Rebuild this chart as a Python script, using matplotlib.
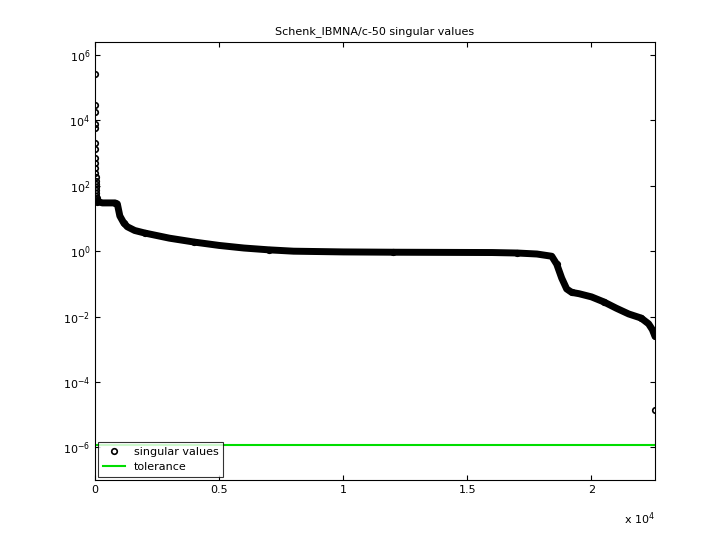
import matplotlib
matplotlib.use("Agg")
import matplotlib.pyplot as plt
import numpy as np

n_total = 22558
# sparse large singular values near index 0
top_idx = [1, 2, 3, 4, 5, 6, 8, 10, 12, 15, 18, 22, 26, 30, 35, 40, 50, 60, 80, 100]
top_val = [2.6e5, 3.0e4, 1.8e4, 8e3, 6e3, 2e3, 1.3e3, 700, 500, 350, 250, 180, 140, 110, 90, 75, 60, 50, 42, 37]
# dense band
band_idx = [100, 300, 600, 800, 900, 1000, 1150, 1300, 1600, 2000, 2500, 3000, 4000, 5000, 6000, 7000, 8000,
            10000, 12000, 14000, 16000, 17000, 17800, 18400, 18600, 18800, 19000, 19200, 19500, 20000, 20500,
            21000, 21500, 22000, 22300, 22450, 22557]
band_val = [33, 30, 30, 30, 28, 12, 7.5, 5.6, 4.3, 3.6, 3.0, 2.5, 1.9, 1.5, 1.25, 1.1, 1.0,
            0.95, 0.93, 0.92, 0.91, 0.88, 0.82, 0.7, 0.4, 0.15, 0.07, 0.055, 0.05, 0.04, 0.028,
            0.018, 0.012, 0.009, 0.006, 0.004, 0.0025]
last_idx = [n_total]
last_val = [1.4e-5]
tolerance = 1.2e-6

fig = plt.figure(figsize=(7.2, 5.4), dpi=100)
ax = fig.add_axes([95/720, 60/540, 560/720, 438/540])
ax.plot(band_idx, band_val, color='k', lw=5, solid_capstyle='round')
ax.plot(top_idx + band_idx[::3] + last_idx, top_val + band_val[::3] + last_val, 'o', mfc='none', mec='k',
        ms=4, mew=1.2, label='singular values', linestyle='none')
ax.axhline(tolerance, color='#00dd00', lw=1.5, label='tolerance')
ax.set_yscale('log')
ax.set_ylim(1e-7, 10**6.4)
ax.set_xlim(0, n_total)
ax.set_yticks([1e-6, 1e-4, 1e-2, 1e0, 1e2, 1e4, 1e6])
ax.minorticks_off()
ax.set_xticks([0, 5000, 10000, 15000, 20000])
ax.set_xticklabels(['0', '0.5', '1', '1.5', '2'])
ax.tick_params(direction='in', labelsize=8, top=True, right=True)
ax.text(1.0, -0.07, r'x 10$^4$', transform=ax.transAxes, ha='right', va='top', fontsize=8)
ax.set_title('Schenk_IBMNA/c-50 singular values', fontsize=8)
leg = ax.legend(loc='lower left', fontsize=8, fancybox=False, edgecolor='k', borderaxespad=0.3)
leg.get_frame().set_linewidth(0.8)
fig.savefig('out.png')
